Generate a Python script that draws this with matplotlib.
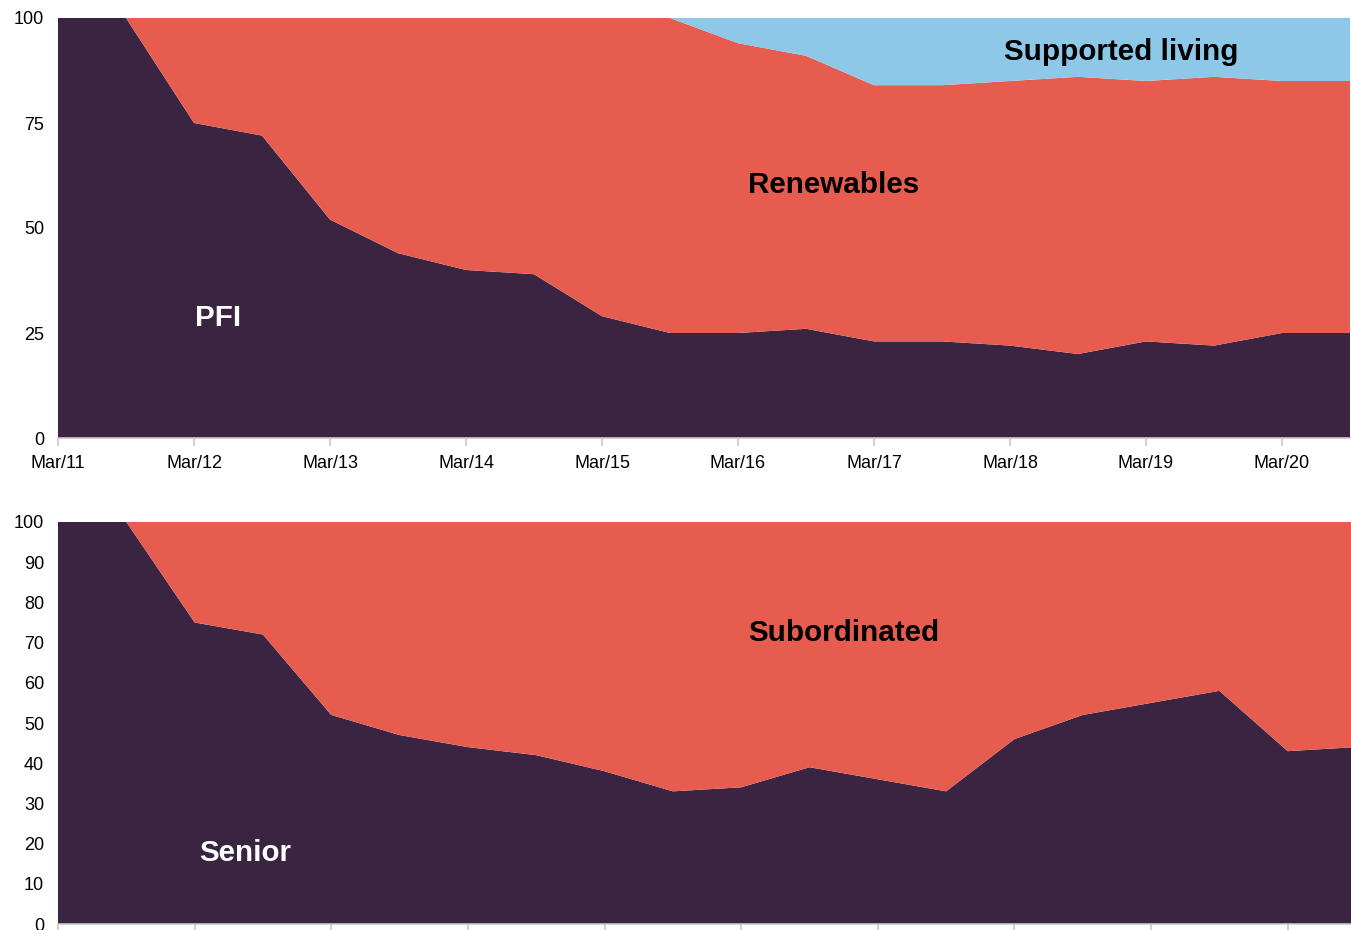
import matplotlib
matplotlib.use("Agg")
import matplotlib.pyplot as plt

# half-year points, Mar/11 .. Sep/20
periods = ["Mar/11", "Sep/11", "Mar/12", "Sep/12", "Mar/13", "Sep/13", "Mar/14", "Sep/14",
           "Mar/15", "Sep/15", "Mar/16", "Sep/16", "Mar/17", "Sep/17", "Mar/18", "Sep/18",
           "Mar/19", "Sep/19", "Mar/20", "Sep/20"]

# top chart: sector split (%)
pfi = [100, 100, 75, 72, 52, 44, 40, 39, 29, 25, 25, 26, 23, 23, 22, 20, 23, 22, 25, 25]
pfi_plus_renew = [100, 100, 100, 100, 100, 100, 100, 100, 100, 100, 94, 91, 84, 84, 85, 86, 85, 86, 85, 85]
renewables = [t - p for t, p in zip(pfi_plus_renew, pfi)]
supported_living = [100 - t for t in pfi_plus_renew]

# bottom chart: seniority split (%)
senior = [100, 100, 75, 72, 52, 47, 44, 42, 38, 33, 34, 39, 36, 33, 46, 52, 55, 58, 43, 44]
subordinated = [100 - s for s in senior]

PURPLE = "#3b2441"
RED = "#e65c4e"
BLUE = "#8ec8e8"
GREY = "#c8c8c8"

plt.rcParams["font.family"] = ["Liberation Sans", "DejaVu Sans"]

fig = plt.figure(figsize=(13.51, 9.30), dpi=100)
ax1 = fig.add_axes([58 / 1351, 492 / 930, 1292 / 1351, 420 / 930])
ax2 = fig.add_axes([58 / 1351, 6 / 930, 1298 / 1351, 402 / 930])

x = list(range(len(periods)))


def style(ax, yticks, labels):
    ax.set_xlim(0, len(periods) - 1)
    ax.set_ylim(0, 100)
    for s in ["top", "right", "left"]:
        ax.spines[s].set_visible(False)
    ax.spines["bottom"].set_color(GREY)
    ax.spines["bottom"].set_linewidth(1.2)
    ax.set_yticks(yticks)
    ax.tick_params(axis="y", length=0, labelsize=13, pad=10)
    ax.set_xticks(x[::2])
    if labels:
        ax.set_xticklabels(periods[::2])
    else:
        ax.set_xticklabels([])
    ax.tick_params(axis="x", length=6, color=GREY, width=1.2, labelsize=13, pad=6)


LBL = dict(fontsize=21.3, fontweight="bold", ha="center", va="center")

ax1.stackplot(x, pfi, renewables, supported_living, colors=[PURPLE, RED, BLUE], linewidth=0)
style(ax1, [0, 25, 50, 75, 100], True)
ax1.text(2.35, 28.6, "PFI", color="white", **LBL)
ax1.text(11.4, 60.3, "Renewables", color="black", **LBL)
ax1.text(15.63, 91.8, "Supported living", color="black", **LBL)

ax2.stackplot(x, senior, subordinated, colors=[PURPLE, RED], linewidth=0)
style(ax2, list(range(0, 101, 10)), False)
ax2.text(2.74, 17.6, "Senior", color="white", **LBL)
ax2.text(11.5, 72.4, "Subordinated", color="black", **LBL)

fig.savefig("out.png", dpi=100)
